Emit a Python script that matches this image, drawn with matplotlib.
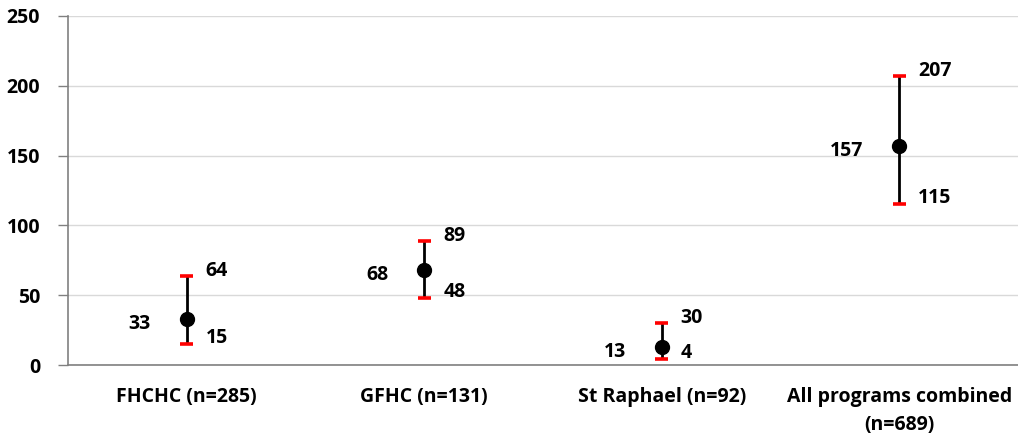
import matplotlib
matplotlib.use("Agg")
import matplotlib.pyplot as plt

# data
categories = ["FHCHC (n=285)", "GFHC (n=131)", "St Raphael (n=92)",
              "All programs combined\n(n=689)"]
estimate = [33, 68, 13, 157]
lower = [15, 48, 4, 115]
upper = [64, 89, 30, 207]

plt.rcParams['font.family'] = ['Open Sans', 'DejaVu Sans']
plt.rcParams['font.weight'] = 'bold'

fig = plt.figure(figsize=(10.18, 4.4), dpi=100)
ax = fig.add_axes([68 / 1018, 1 - 365 / 440, 1 - 68 / 1018, (365 - 16) / 440])

x = list(range(len(categories)))

# black whisker + red caps
ax.vlines(x, lower, upper, color="black", lw=2, zorder=3)
ax.hlines(lower + upper, [i - 0.027 for i in x] * 2, [i + 0.027 for i in x] * 2,
          color="#ff0000", lw=2.6, zorder=4)
ax.plot(x, estimate, "o", color="black", ms=10, zorder=5)

lab = dict(fontsize=14, fontweight="bold", color="black")
for i in x:
    ax.annotate(str(estimate[i]), (i, estimate[i]), xytext=(-36, -5),
                textcoords="offset pixels", ha="right", va="center", **lab)
    ax.annotate(str(upper[i]), (i, upper[i]), xytext=(19, 5),
                textcoords="offset pixels", ha="left", va="center", **lab)
    ax.annotate(str(lower[i]), (i, lower[i]), xytext=(19, 6),
                textcoords="offset pixels", ha="left", va="center", **lab)

ax.set_xlim(-0.5, len(categories) - 0.5)
ax.set_ylim(0, 250)
ax.set_yticks(range(0, 251, 50))
ax.set_xticks(x)
ax.set_xticklabels(categories, fontsize=14, fontweight="bold", linespacing=1.55)
ax.tick_params(axis="x", length=0, pad=16)
ax.tick_params(axis="y", length=7, width=1, color="#808080", labelsize=14, pad=13)

ax.grid(axis="y", color="#d9d9d9", lw=1)
ax.set_axisbelow(True)
for s in ["top", "right"]:
    ax.spines[s].set_visible(False)
for s in ["left", "bottom"]:
    ax.spines[s].set_color("#808080")
    ax.spines[s].set_linewidth(1.2)

fig.savefig("out.png", dpi=100)
